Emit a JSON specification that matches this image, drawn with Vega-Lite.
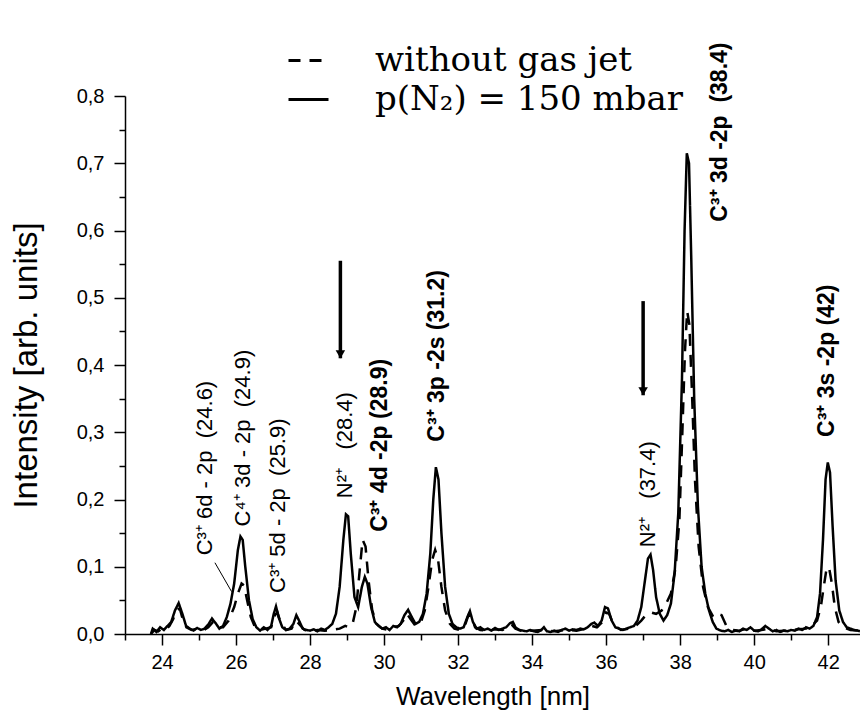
{
"$schema":"https://vega.github.io/schema/vega-lite/v6.json",
"width":735,"height":538,
"autosize":{"type":"none"},
"padding":{"left":125,"top":96,"right":0,"bottom":89},
"background":"white",
"config":{"view":{"stroke":null},
"axis":{"domainColor":"black","domainWidth":1.5,"tickColor":"black","tickWidth":1.5,"labelColor":"black","labelFont":"Liberation Sans","labelFontSize":20,"titleFont":"Liberation Sans","titleFontSize":26,"titleFontWeight":"normal","titleColor":"black","grid":false},
"legend":{"padding":0}},
"datasets":{
"spec":[
{"wl":23.70,"I":0.000,"s":"without gas jet"},{"wl":23.80,"I":0.006,"s":"without gas jet"},{"wl":23.90,"I":0.004,"s":"without gas jet"},{"wl":24.00,"I":0.008,"s":"without gas jet"},{"wl":24.10,"I":0.006,"s":"without gas jet"},{"wl":24.20,"I":0.012,"s":"without gas jet"},{"wl":24.30,"I":0.022,"s":"without gas jet"},{"wl":24.40,"I":0.036,"s":"without gas jet"},{"wl":24.48,"I":0.038,"s":"without gas jet"},{"wl":24.56,"I":0.022,"s":"without gas jet"},{"wl":24.66,"I":0.010,"s":"without gas jet"},{"wl":24.80,"I":0.006,"s":"without gas jet"},{"wl":24.95,"I":0.008,"s":"without gas jet"},{"wl":25.10,"I":0.005,"s":"without gas jet"},{"wl":25.25,"I":0.010,"s":"without gas jet"},{"wl":25.38,"I":0.018,"s":"without gas jet"},{"wl":25.50,"I":0.010,"s":"without gas jet"},{"wl":25.65,"I":0.010,"s":"without gas jet"},{"wl":25.80,"I":0.020,"s":"without gas jet"},{"wl":25.95,"I":0.040,"s":"without gas jet"},{"wl":26.05,"I":0.060,"s":"without gas jet"},{"wl":26.15,"I":0.075,"s":"without gas jet"},{"wl":26.22,"I":0.072,"s":"without gas jet"},{"wl":26.30,"I":0.050,"s":"without gas jet"},{"wl":26.40,"I":0.025,"s":"without gas jet"},{"wl":26.50,"I":0.012,"s":"without gas jet"},{"wl":26.65,"I":0.006,"s":"without gas jet"},{"wl":26.80,"I":0.008,"s":"without gas jet"},{"wl":26.95,"I":0.010,"s":"without gas jet"},{"wl":27.05,"I":0.028,"s":"without gas jet"},{"wl":27.12,"I":0.032,"s":"without gas jet"},{"wl":27.20,"I":0.018,"s":"without gas jet"},{"wl":27.35,"I":0.006,"s":"without gas jet"},{"wl":27.50,"I":0.008,"s":"without gas jet"},{"wl":27.62,"I":0.020,"s":"without gas jet"},{"wl":27.72,"I":0.014,"s":"without gas jet"},{"wl":27.85,"I":0.006,"s":"without gas jet"},{"wl":28.00,"I":0.004,"s":"without gas jet"},{"wl":28.20,"I":0.006,"s":"without gas jet"},{"wl":28.40,"I":0.005,"s":"without gas jet"},{"wl":28.60,"I":0.006,"s":"without gas jet"},{"wl":28.80,"I":0.008,"s":"without gas jet"},{"wl":28.95,"I":0.012,"s":"without gas jet"},{"wl":29.05,"I":0.010,"s":"without gas jet"},{"wl":29.15,"I":0.015,"s":"without gas jet"},{"wl":29.25,"I":0.040,"s":"without gas jet"},{"wl":29.35,"I":0.100,"s":"without gas jet"},{"wl":29.42,"I":0.140,"s":"without gas jet"},{"wl":29.50,"I":0.130,"s":"without gas jet"},{"wl":29.58,"I":0.080,"s":"without gas jet"},{"wl":29.68,"I":0.035,"s":"without gas jet"},{"wl":29.80,"I":0.015,"s":"without gas jet"},{"wl":29.95,"I":0.008,"s":"without gas jet"},{"wl":30.10,"I":0.006,"s":"without gas jet"},{"wl":30.25,"I":0.010,"s":"without gas jet"},{"wl":30.40,"I":0.012,"s":"without gas jet"},{"wl":30.52,"I":0.020,"s":"without gas jet"},{"wl":30.62,"I":0.030,"s":"without gas jet"},{"wl":30.72,"I":0.022,"s":"without gas jet"},{"wl":30.85,"I":0.012,"s":"without gas jet"},{"wl":31.00,"I":0.018,"s":"without gas jet"},{"wl":31.10,"I":0.035,"s":"without gas jet"},{"wl":31.20,"I":0.070,"s":"without gas jet"},{"wl":31.30,"I":0.110,"s":"without gas jet"},{"wl":31.38,"I":0.125,"s":"without gas jet"},{"wl":31.46,"I":0.110,"s":"without gas jet"},{"wl":31.55,"I":0.070,"s":"without gas jet"},{"wl":31.65,"I":0.035,"s":"without gas jet"},{"wl":31.78,"I":0.015,"s":"without gas jet"},{"wl":31.90,"I":0.008,"s":"without gas jet"},{"wl":32.05,"I":0.006,"s":"without gas jet"},{"wl":32.18,"I":0.012,"s":"without gas jet"},{"wl":32.28,"I":0.028,"s":"without gas jet"},{"wl":32.36,"I":0.026,"s":"without gas jet"},{"wl":32.46,"I":0.010,"s":"without gas jet"},{"wl":32.60,"I":0.006,"s":"without gas jet"},{"wl":32.80,"I":0.005,"s":"without gas jet"},{"wl":33.00,"I":0.007,"s":"without gas jet"},{"wl":33.20,"I":0.006,"s":"without gas jet"},{"wl":33.35,"I":0.010,"s":"without gas jet"},{"wl":33.45,"I":0.014,"s":"without gas jet"},{"wl":33.55,"I":0.008,"s":"without gas jet"},{"wl":33.75,"I":0.004,"s":"without gas jet"},{"wl":34.00,"I":0.005,"s":"without gas jet"},{"wl":34.30,"I":0.006,"s":"without gas jet"},{"wl":34.60,"I":0.004,"s":"without gas jet"},{"wl":34.90,"I":0.006,"s":"without gas jet"},{"wl":35.20,"I":0.005,"s":"without gas jet"},{"wl":35.45,"I":0.008,"s":"without gas jet"},{"wl":35.62,"I":0.012,"s":"without gas jet"},{"wl":35.75,"I":0.010,"s":"without gas jet"},{"wl":35.90,"I":0.018,"s":"without gas jet"},{"wl":36.00,"I":0.032,"s":"without gas jet"},{"wl":36.08,"I":0.030,"s":"without gas jet"},{"wl":36.20,"I":0.014,"s":"without gas jet"},{"wl":36.40,"I":0.006,"s":"without gas jet"},{"wl":36.60,"I":0.008,"s":"without gas jet"},{"wl":36.80,"I":0.012,"s":"without gas jet"},{"wl":36.95,"I":0.020,"s":"without gas jet"},{"wl":37.10,"I":0.030,"s":"without gas jet"},{"wl":37.22,"I":0.032,"s":"without gas jet"},{"wl":37.35,"I":0.030,"s":"without gas jet"},{"wl":37.50,"I":0.035,"s":"without gas jet"},{"wl":37.62,"I":0.045,"s":"without gas jet"},{"wl":37.75,"I":0.060,"s":"without gas jet"},{"wl":37.88,"I":0.100,"s":"without gas jet"},{"wl":37.98,"I":0.170,"s":"without gas jet"},{"wl":38.06,"I":0.300,"s":"without gas jet"},{"wl":38.13,"I":0.420,"s":"without gas jet"},{"wl":38.19,"I":0.480,"s":"without gas jet"},{"wl":38.25,"I":0.460,"s":"without gas jet"},{"wl":38.32,"I":0.360,"s":"without gas jet"},{"wl":38.40,"I":0.230,"s":"without gas jet"},{"wl":38.50,"I":0.130,"s":"without gas jet"},{"wl":38.62,"I":0.070,"s":"without gas jet"},{"wl":38.75,"I":0.040,"s":"without gas jet"},{"wl":38.90,"I":0.025,"s":"without gas jet"},{"wl":39.02,"I":0.030,"s":"without gas jet"},{"wl":39.12,"I":0.028,"s":"without gas jet"},{"wl":39.25,"I":0.012,"s":"without gas jet"},{"wl":39.40,"I":0.006,"s":"without gas jet"},{"wl":39.60,"I":0.005,"s":"without gas jet"},{"wl":39.80,"I":0.008,"s":"without gas jet"},{"wl":40.00,"I":0.005,"s":"without gas jet"},{"wl":40.20,"I":0.006,"s":"without gas jet"},{"wl":40.40,"I":0.008,"s":"without gas jet"},{"wl":40.60,"I":0.004,"s":"without gas jet"},{"wl":40.80,"I":0.005,"s":"without gas jet"},{"wl":41.00,"I":0.006,"s":"without gas jet"},{"wl":41.20,"I":0.007,"s":"without gas jet"},{"wl":41.40,"I":0.008,"s":"without gas jet"},{"wl":41.55,"I":0.012,"s":"without gas jet"},{"wl":41.70,"I":0.020,"s":"without gas jet"},{"wl":41.80,"I":0.040,"s":"without gas jet"},{"wl":41.88,"I":0.070,"s":"without gas jet"},{"wl":41.95,"I":0.095,"s":"without gas jet"},{"wl":42.02,"I":0.100,"s":"without gas jet"},{"wl":42.10,"I":0.075,"s":"without gas jet"},{"wl":42.18,"I":0.040,"s":"without gas jet"},{"wl":42.28,"I":0.018,"s":"without gas jet"},{"wl":42.40,"I":0.010,"s":"without gas jet"},{"wl":42.60,"I":0.006,"s":"without gas jet"},{"wl":42.86,"I":0.005,"s":"without gas jet"},
{"wl":23.70,"I":0.000,"s":"p(N₂) = 150 mbar"},{"wl":23.75,"I":0.008,"s":"p(N₂) = 150 mbar"},{"wl":23.85,"I":0.003,"s":"p(N₂) = 150 mbar"},{"wl":23.95,"I":0.010,"s":"p(N₂) = 150 mbar"},{"wl":24.05,"I":0.006,"s":"p(N₂) = 150 mbar"},{"wl":24.15,"I":0.012,"s":"p(N₂) = 150 mbar"},{"wl":24.25,"I":0.018,"s":"p(N₂) = 150 mbar"},{"wl":24.35,"I":0.035,"s":"p(N₂) = 150 mbar"},{"wl":24.45,"I":0.046,"s":"p(N₂) = 150 mbar"},{"wl":24.55,"I":0.030,"s":"p(N₂) = 150 mbar"},{"wl":24.65,"I":0.012,"s":"p(N₂) = 150 mbar"},{"wl":24.75,"I":0.008,"s":"p(N₂) = 150 mbar"},{"wl":24.85,"I":0.005,"s":"p(N₂) = 150 mbar"},{"wl":24.95,"I":0.009,"s":"p(N₂) = 150 mbar"},{"wl":25.05,"I":0.006,"s":"p(N₂) = 150 mbar"},{"wl":25.15,"I":0.008,"s":"p(N₂) = 150 mbar"},{"wl":25.25,"I":0.014,"s":"p(N₂) = 150 mbar"},{"wl":25.35,"I":0.023,"s":"p(N₂) = 150 mbar"},{"wl":25.45,"I":0.016,"s":"p(N₂) = 150 mbar"},{"wl":25.55,"I":0.008,"s":"p(N₂) = 150 mbar"},{"wl":25.65,"I":0.012,"s":"p(N₂) = 150 mbar"},{"wl":25.75,"I":0.025,"s":"p(N₂) = 150 mbar"},{"wl":25.85,"I":0.045,"s":"p(N₂) = 150 mbar"},{"wl":25.95,"I":0.075,"s":"p(N₂) = 150 mbar"},{"wl":26.05,"I":0.125,"s":"p(N₂) = 150 mbar"},{"wl":26.12,"I":0.145,"s":"p(N₂) = 150 mbar"},{"wl":26.18,"I":0.140,"s":"p(N₂) = 150 mbar"},{"wl":26.25,"I":0.100,"s":"p(N₂) = 150 mbar"},{"wl":26.35,"I":0.050,"s":"p(N₂) = 150 mbar"},{"wl":26.45,"I":0.022,"s":"p(N₂) = 150 mbar"},{"wl":26.55,"I":0.010,"s":"p(N₂) = 150 mbar"},{"wl":26.65,"I":0.005,"s":"p(N₂) = 150 mbar"},{"wl":26.75,"I":0.010,"s":"p(N₂) = 150 mbar"},{"wl":26.85,"I":0.006,"s":"p(N₂) = 150 mbar"},{"wl":26.95,"I":0.012,"s":"p(N₂) = 150 mbar"},{"wl":27.02,"I":0.030,"s":"p(N₂) = 150 mbar"},{"wl":27.08,"I":0.041,"s":"p(N₂) = 150 mbar"},{"wl":27.15,"I":0.025,"s":"p(N₂) = 150 mbar"},{"wl":27.25,"I":0.010,"s":"p(N₂) = 150 mbar"},{"wl":27.35,"I":0.006,"s":"p(N₂) = 150 mbar"},{"wl":27.45,"I":0.008,"s":"p(N₂) = 150 mbar"},{"wl":27.55,"I":0.015,"s":"p(N₂) = 150 mbar"},{"wl":27.63,"I":0.028,"s":"p(N₂) = 150 mbar"},{"wl":27.72,"I":0.018,"s":"p(N₂) = 150 mbar"},{"wl":27.80,"I":0.008,"s":"p(N₂) = 150 mbar"},{"wl":27.90,"I":0.006,"s":"p(N₂) = 150 mbar"},{"wl":28.00,"I":0.005,"s":"p(N₂) = 150 mbar"},{"wl":28.10,"I":0.007,"s":"p(N₂) = 150 mbar"},{"wl":28.20,"I":0.004,"s":"p(N₂) = 150 mbar"},{"wl":28.30,"I":0.008,"s":"p(N₂) = 150 mbar"},{"wl":28.40,"I":0.006,"s":"p(N₂) = 150 mbar"},{"wl":28.50,"I":0.010,"s":"p(N₂) = 150 mbar"},{"wl":28.60,"I":0.015,"s":"p(N₂) = 150 mbar"},{"wl":28.70,"I":0.030,"s":"p(N₂) = 150 mbar"},{"wl":28.80,"I":0.070,"s":"p(N₂) = 150 mbar"},{"wl":28.90,"I":0.140,"s":"p(N₂) = 150 mbar"},{"wl":28.97,"I":0.178,"s":"p(N₂) = 150 mbar"},{"wl":29.03,"I":0.175,"s":"p(N₂) = 150 mbar"},{"wl":29.10,"I":0.120,"s":"p(N₂) = 150 mbar"},{"wl":29.20,"I":0.055,"s":"p(N₂) = 150 mbar"},{"wl":29.30,"I":0.040,"s":"p(N₂) = 150 mbar"},{"wl":29.40,"I":0.070,"s":"p(N₂) = 150 mbar"},{"wl":29.48,"I":0.085,"s":"p(N₂) = 150 mbar"},{"wl":29.55,"I":0.075,"s":"p(N₂) = 150 mbar"},{"wl":29.65,"I":0.040,"s":"p(N₂) = 150 mbar"},{"wl":29.75,"I":0.018,"s":"p(N₂) = 150 mbar"},{"wl":29.85,"I":0.012,"s":"p(N₂) = 150 mbar"},{"wl":29.95,"I":0.008,"s":"p(N₂) = 150 mbar"},{"wl":30.05,"I":0.010,"s":"p(N₂) = 150 mbar"},{"wl":30.15,"I":0.006,"s":"p(N₂) = 150 mbar"},{"wl":30.25,"I":0.012,"s":"p(N₂) = 150 mbar"},{"wl":30.35,"I":0.010,"s":"p(N₂) = 150 mbar"},{"wl":30.45,"I":0.015,"s":"p(N₂) = 150 mbar"},{"wl":30.55,"I":0.028,"s":"p(N₂) = 150 mbar"},{"wl":30.65,"I":0.036,"s":"p(N₂) = 150 mbar"},{"wl":30.75,"I":0.025,"s":"p(N₂) = 150 mbar"},{"wl":30.85,"I":0.015,"s":"p(N₂) = 150 mbar"},{"wl":30.95,"I":0.018,"s":"p(N₂) = 150 mbar"},{"wl":31.05,"I":0.030,"s":"p(N₂) = 150 mbar"},{"wl":31.15,"I":0.060,"s":"p(N₂) = 150 mbar"},{"wl":31.25,"I":0.120,"s":"p(N₂) = 150 mbar"},{"wl":31.33,"I":0.200,"s":"p(N₂) = 150 mbar"},{"wl":31.40,"I":0.248,"s":"p(N₂) = 150 mbar"},{"wl":31.47,"I":0.230,"s":"p(N₂) = 150 mbar"},{"wl":31.55,"I":0.150,"s":"p(N₂) = 150 mbar"},{"wl":31.65,"I":0.070,"s":"p(N₂) = 150 mbar"},{"wl":31.75,"I":0.030,"s":"p(N₂) = 150 mbar"},{"wl":31.85,"I":0.015,"s":"p(N₂) = 150 mbar"},{"wl":31.95,"I":0.010,"s":"p(N₂) = 150 mbar"},{"wl":32.05,"I":0.008,"s":"p(N₂) = 150 mbar"},{"wl":32.15,"I":0.010,"s":"p(N₂) = 150 mbar"},{"wl":32.25,"I":0.025,"s":"p(N₂) = 150 mbar"},{"wl":32.32,"I":0.034,"s":"p(N₂) = 150 mbar"},{"wl":32.40,"I":0.018,"s":"p(N₂) = 150 mbar"},{"wl":32.50,"I":0.008,"s":"p(N₂) = 150 mbar"},{"wl":32.60,"I":0.010,"s":"p(N₂) = 150 mbar"},{"wl":32.70,"I":0.006,"s":"p(N₂) = 150 mbar"},{"wl":32.80,"I":0.008,"s":"p(N₂) = 150 mbar"},{"wl":32.90,"I":0.005,"s":"p(N₂) = 150 mbar"},{"wl":33.00,"I":0.009,"s":"p(N₂) = 150 mbar"},{"wl":33.10,"I":0.006,"s":"p(N₂) = 150 mbar"},{"wl":33.20,"I":0.008,"s":"p(N₂) = 150 mbar"},{"wl":33.30,"I":0.010,"s":"p(N₂) = 150 mbar"},{"wl":33.40,"I":0.016,"s":"p(N₂) = 150 mbar"},{"wl":33.48,"I":0.018,"s":"p(N₂) = 150 mbar"},{"wl":33.55,"I":0.010,"s":"p(N₂) = 150 mbar"},{"wl":33.65,"I":0.006,"s":"p(N₂) = 150 mbar"},{"wl":33.75,"I":0.005,"s":"p(N₂) = 150 mbar"},{"wl":33.85,"I":0.004,"s":"p(N₂) = 150 mbar"},{"wl":33.95,"I":0.006,"s":"p(N₂) = 150 mbar"},{"wl":34.05,"I":0.004,"s":"p(N₂) = 150 mbar"},{"wl":34.15,"I":0.003,"s":"p(N₂) = 150 mbar"},{"wl":34.25,"I":0.006,"s":"p(N₂) = 150 mbar"},{"wl":34.32,"I":0.010,"s":"p(N₂) = 150 mbar"},{"wl":34.40,"I":0.004,"s":"p(N₂) = 150 mbar"},{"wl":34.50,"I":0.003,"s":"p(N₂) = 150 mbar"},{"wl":34.60,"I":0.005,"s":"p(N₂) = 150 mbar"},{"wl":34.70,"I":0.003,"s":"p(N₂) = 150 mbar"},{"wl":34.80,"I":0.006,"s":"p(N₂) = 150 mbar"},{"wl":34.90,"I":0.008,"s":"p(N₂) = 150 mbar"},{"wl":35.00,"I":0.005,"s":"p(N₂) = 150 mbar"},{"wl":35.10,"I":0.007,"s":"p(N₂) = 150 mbar"},{"wl":35.20,"I":0.006,"s":"p(N₂) = 150 mbar"},{"wl":35.30,"I":0.008,"s":"p(N₂) = 150 mbar"},{"wl":35.40,"I":0.007,"s":"p(N₂) = 150 mbar"},{"wl":35.50,"I":0.010,"s":"p(N₂) = 150 mbar"},{"wl":35.60,"I":0.015,"s":"p(N₂) = 150 mbar"},{"wl":35.68,"I":0.017,"s":"p(N₂) = 150 mbar"},{"wl":35.78,"I":0.012,"s":"p(N₂) = 150 mbar"},{"wl":35.88,"I":0.020,"s":"p(N₂) = 150 mbar"},{"wl":35.97,"I":0.040,"s":"p(N₂) = 150 mbar"},{"wl":36.05,"I":0.038,"s":"p(N₂) = 150 mbar"},{"wl":36.15,"I":0.020,"s":"p(N₂) = 150 mbar"},{"wl":36.25,"I":0.010,"s":"p(N₂) = 150 mbar"},{"wl":36.35,"I":0.008,"s":"p(N₂) = 150 mbar"},{"wl":36.45,"I":0.006,"s":"p(N₂) = 150 mbar"},{"wl":36.55,"I":0.008,"s":"p(N₂) = 150 mbar"},{"wl":36.65,"I":0.010,"s":"p(N₂) = 150 mbar"},{"wl":36.75,"I":0.012,"s":"p(N₂) = 150 mbar"},{"wl":36.85,"I":0.020,"s":"p(N₂) = 150 mbar"},{"wl":36.95,"I":0.040,"s":"p(N₂) = 150 mbar"},{"wl":37.05,"I":0.080,"s":"p(N₂) = 150 mbar"},{"wl":37.13,"I":0.112,"s":"p(N₂) = 150 mbar"},{"wl":37.20,"I":0.118,"s":"p(N₂) = 150 mbar"},{"wl":37.27,"I":0.095,"s":"p(N₂) = 150 mbar"},{"wl":37.35,"I":0.055,"s":"p(N₂) = 150 mbar"},{"wl":37.45,"I":0.030,"s":"p(N₂) = 150 mbar"},{"wl":37.55,"I":0.020,"s":"p(N₂) = 150 mbar"},{"wl":37.65,"I":0.028,"s":"p(N₂) = 150 mbar"},{"wl":37.75,"I":0.045,"s":"p(N₂) = 150 mbar"},{"wl":37.85,"I":0.090,"s":"p(N₂) = 150 mbar"},{"wl":37.95,"I":0.180,"s":"p(N₂) = 150 mbar"},{"wl":38.05,"I":0.380,"s":"p(N₂) = 150 mbar"},{"wl":38.12,"I":0.600,"s":"p(N₂) = 150 mbar"},{"wl":38.18,"I":0.715,"s":"p(N₂) = 150 mbar"},{"wl":38.24,"I":0.700,"s":"p(N₂) = 150 mbar"},{"wl":38.30,"I":0.560,"s":"p(N₂) = 150 mbar"},{"wl":38.38,"I":0.350,"s":"p(N₂) = 150 mbar"},{"wl":38.48,"I":0.190,"s":"p(N₂) = 150 mbar"},{"wl":38.58,"I":0.100,"s":"p(N₂) = 150 mbar"},{"wl":38.68,"I":0.060,"s":"p(N₂) = 150 mbar"},{"wl":38.78,"I":0.035,"s":"p(N₂) = 150 mbar"},{"wl":38.88,"I":0.018,"s":"p(N₂) = 150 mbar"},{"wl":38.98,"I":0.008,"s":"p(N₂) = 150 mbar"},{"wl":39.10,"I":0.005,"s":"p(N₂) = 150 mbar"},{"wl":39.20,"I":0.004,"s":"p(N₂) = 150 mbar"},{"wl":39.30,"I":0.006,"s":"p(N₂) = 150 mbar"},{"wl":39.40,"I":0.003,"s":"p(N₂) = 150 mbar"},{"wl":39.50,"I":0.005,"s":"p(N₂) = 150 mbar"},{"wl":39.60,"I":0.004,"s":"p(N₂) = 150 mbar"},{"wl":39.70,"I":0.008,"s":"p(N₂) = 150 mbar"},{"wl":39.80,"I":0.006,"s":"p(N₂) = 150 mbar"},{"wl":39.90,"I":0.010,"s":"p(N₂) = 150 mbar"},{"wl":40.00,"I":0.005,"s":"p(N₂) = 150 mbar"},{"wl":40.10,"I":0.004,"s":"p(N₂) = 150 mbar"},{"wl":40.20,"I":0.007,"s":"p(N₂) = 150 mbar"},{"wl":40.30,"I":0.012,"s":"p(N₂) = 150 mbar"},{"wl":40.40,"I":0.008,"s":"p(N₂) = 150 mbar"},{"wl":40.50,"I":0.004,"s":"p(N₂) = 150 mbar"},{"wl":40.60,"I":0.006,"s":"p(N₂) = 150 mbar"},{"wl":40.70,"I":0.003,"s":"p(N₂) = 150 mbar"},{"wl":40.80,"I":0.005,"s":"p(N₂) = 150 mbar"},{"wl":40.90,"I":0.004,"s":"p(N₂) = 150 mbar"},{"wl":41.00,"I":0.006,"s":"p(N₂) = 150 mbar"},{"wl":41.10,"I":0.005,"s":"p(N₂) = 150 mbar"},{"wl":41.20,"I":0.008,"s":"p(N₂) = 150 mbar"},{"wl":41.30,"I":0.006,"s":"p(N₂) = 150 mbar"},{"wl":41.40,"I":0.010,"s":"p(N₂) = 150 mbar"},{"wl":41.50,"I":0.008,"s":"p(N₂) = 150 mbar"},{"wl":41.60,"I":0.012,"s":"p(N₂) = 150 mbar"},{"wl":41.70,"I":0.025,"s":"p(N₂) = 150 mbar"},{"wl":41.78,"I":0.060,"s":"p(N₂) = 150 mbar"},{"wl":41.86,"I":0.140,"s":"p(N₂) = 150 mbar"},{"wl":41.93,"I":0.230,"s":"p(N₂) = 150 mbar"},{"wl":41.99,"I":0.255,"s":"p(N₂) = 150 mbar"},{"wl":42.05,"I":0.240,"s":"p(N₂) = 150 mbar"},{"wl":42.12,"I":0.160,"s":"p(N₂) = 150 mbar"},{"wl":42.20,"I":0.080,"s":"p(N₂) = 150 mbar"},{"wl":42.30,"I":0.035,"s":"p(N₂) = 150 mbar"},{"wl":42.40,"I":0.018,"s":"p(N₂) = 150 mbar"},{"wl":42.50,"I":0.010,"s":"p(N₂) = 150 mbar"},{"wl":42.60,"I":0.008,"s":"p(N₂) = 150 mbar"},{"wl":42.70,"I":0.006,"s":"p(N₂) = 150 mbar"},{"wl":42.80,"I":0.005,"s":"p(N₂) = 150 mbar"},{"wl":42.86,"I":0.004,"s":"p(N₂) = 150 mbar"}
],
"normalLabels":[
{"wl":25.16,"I":0.117,"label":"C³⁺ 6d - 2p \u00a0(24.6)"},
{"wl":26.19,"I":0.16,"label":"C⁴⁺ 3d - 2p \u00a0(24.9)"},
{"wl":27.14,"I":0.061,"label":"C³⁺ 5d - 2p \u00a0(25.9)"},
{"wl":28.95,"I":0.202,"label":"N²⁺ \u00a0\u00a0(28.4)"},
{"wl":37.14,"I":0.129,"label":"N²⁺ \u00a0\u00a0(37.4)"}
],
"boldLabels":[
{"wl":29.89,"I":0.152,"label":"C³⁺ 4d -2p (28.9)"},
{"wl":31.43,"I":0.286,"label":"C³⁺ 3p -2s (31.2)"},
{"wl":39.08,"I":0.613,"label":"C³⁺ 3d -2p \u00a0(38.4)"},
{"wl":41.97,"I":0.293,"label":"C³⁺ 3s -2p (42)"}
],
"arrows":[
{"wl":28.82,"top":0.555,"tip":0.41},
{"wl":37.0,"top":0.495,"tip":0.355}
],
"leader":[{"wl":25.43,"wl2":25.88,"I":0.106,"I2":0.063}]
},
"layer":[
{"data":{"name":"spec"},
"mark":{"type":"line","color":"black","strokeWidth":2.5},
"encoding":{
"x":{"field":"wl","type":"quantitative","scale":{"domain":[23,42.86],"nice":false,"zero":false},
"axis":{"values":[24,26,28,30,32,34,36,38,40,42],"title":"Wavelength [nm]","tickSize":11,"labelPadding":7,"titlePadding":11,"orient":"bottom"}},
"y":{"field":"I","type":"quantitative","scale":{"domain":[0,0.8],"nice":false},
"axis":{"values":[0,0.1,0.2,0.3,0.4,0.5,0.6,0.7,0.8],"format":".1f","labelExpr":"replace(datum.label,'.',',')","title":"Intensity [arb. units]","titleFontSize":33,"tickSize":11,"labelPadding":10,"titlePadding":33,"orient":"left"}},
"strokeDash":{"field":"s","type":"nominal","scale":{"domain":["without gas jet","p(N₂) = 150 mbar"],"range":[[12,9],[1,0]]},
"legend":{"title":null,"orient":"none","legendX":162,"legendY":-57,"symbolType":"stroke","symbolSize":1600,"symbolStrokeWidth":3,"symbolStrokeColor":"black","labelFont":"DejaVu Serif","labelFontSize":34,"labelColor":"black","labelOffset":45,"rowPadding":0,"labelLimit":500}}
}},
{"data":{"name":"leader"},
"mark":{"type":"rule","color":"black","strokeWidth":1},
"encoding":{
"x":{"field":"wl","type":"quantitative","axis":{"values":[23,25,27,29,31,33,35,37,39,41],"labels":false,"title":null,"domain":false,"tickSize":6,"orient":"bottom"}},
"x2":{"field":"wl2"},
"y":{"field":"I","type":"quantitative","axis":{"values":[0.05,0.15,0.25,0.35,0.45,0.55,0.65,0.75],"labels":false,"title":null,"domain":false,"tickSize":6,"orient":"left"}},
"y2":{"field":"I2"}
}},
{"data":{"name":"arrows"},
"mark":{"type":"rule","color":"black","strokeWidth":3.5},
"encoding":{
"x":{"field":"wl","type":"quantitative","axis":null},
"y":{"field":"top","type":"quantitative","axis":null},
"y2":{"field":"tip"}
}},
{"data":{"name":"arrows"},
"mark":{"type":"point","shape":"triangle-down","filled":true,"color":"black","size":90,"opacity":1,"yOffset":-4},
"encoding":{
"x":{"field":"wl","type":"quantitative","axis":null},
"y":{"field":"tip","type":"quantitative","axis":null}
}},
{"data":{"name":"normalLabels"},
"mark":{"type":"text","angle":270,"align":"left","baseline":"middle","font":"Liberation Sans","fontSize":22,"color":"black"},
"encoding":{
"x":{"field":"wl","type":"quantitative","axis":null},
"y":{"field":"I","type":"quantitative","axis":null},
"text":{"field":"label"}
}},
{"data":{"name":"boldLabels"},
"mark":{"type":"text","angle":270,"align":"left","baseline":"middle","font":"Liberation Sans","fontSize":23,"fontWeight":"bold","color":"black"},
"encoding":{
"x":{"field":"wl","type":"quantitative","axis":null},
"y":{"field":"I","type":"quantitative","axis":null},
"text":{"field":"label"}
}}
],
"resolve":{"axis":{"x":"independent","y":"independent"}}
}
